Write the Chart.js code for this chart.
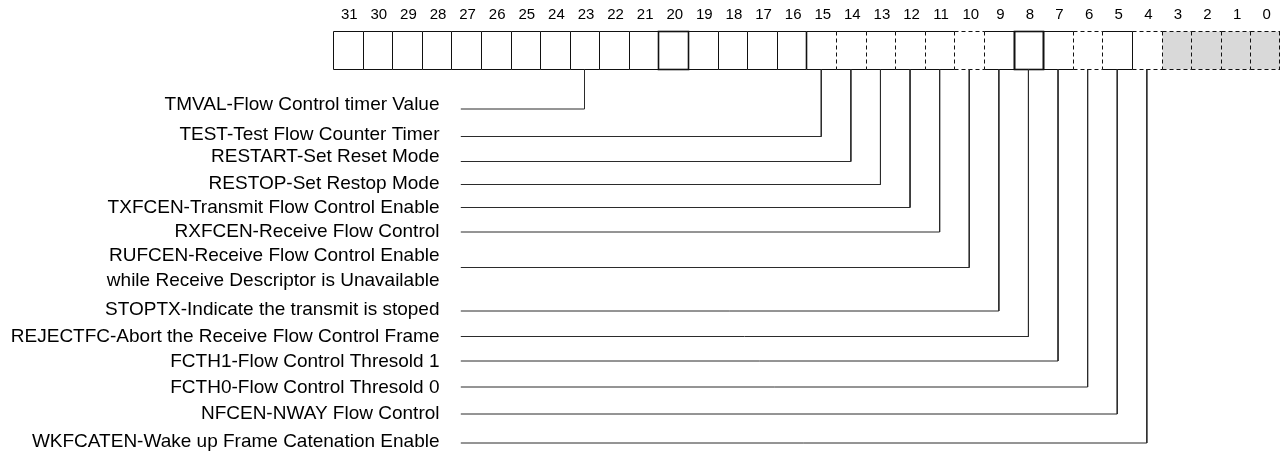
<!DOCTYPE html>
<html>
<head>
<meta charset="utf-8">
<script src="https://cdn.jsdelivr.net/npm/chart.js@4/dist/chart.umd.min.js"></script>
<style>
  html, body { margin: 0; padding: 0; background: #fff; }
  #wrap { width: 1280px; height: 455px; position: relative; }
</style>
</head>
<body>
<div id="wrap"><canvas id="reg"></canvas></div>
<script>
// bit numbers across the top, MSB first
const bitNumbers = [31, 30, 29, 28, 27, 26, 25, 24, 23, 22, 21, 20, 19, 18, 17, 16,
                    15, 14, 13, 12, 11, 10, 9, 8, 7, 6, 5, 4, 3, 2, 1, 0]

// described fields: which bit the leader comes from and its text
const fieldBits = [23, 15, 14, 13, 12, 11, 10, 9, 8, 7, 6, 5, 4]
const fieldNames = [
  ["TMVAL-Flow Control timer Value"],
  ["TEST-Test Flow Counter Timer"],
  ["RESTART-Set Reset Mode"],
  ["RESTOP-Set Restop Mode"],
  ["TXFCEN-Transmit Flow Control Enable"],
  ["RXFCEN-Receive Flow Control"],
  ["RUFCEN-Receive Flow Control Enable", "while Receive Descriptor is Unavailable"],
  ["STOPTX-Indicate the transmit is stoped"],
  ["REJECTFC-Abort the Receive Flow Control Frame"],
  ["FCTH1-Flow Control Thresold 1"],
  ["FCTH0-Flow Control Thresold 0"],
  ["NFCEN-NWAY Flow Control"],
  ["WKFCATEN-Wake up Frame Catenation Enable"],
]
// y of each leader's horizontal run and of its text lines
const fieldLeaderY = [109, 136.5, 161.5, 184.5, 207.5, 232, 267.5, 311, 336.5, 361, 387, 414, 443]
const fieldTextY = [[105], [134.5], [157], [183.5], [208], [232], [255.5, 280.5], [310], [337], [362], [388], [413.5], [441.5]]

// reserved bits (shaded)
const reservedBits = [3, 2, 1, 0]

// --- styling (not data) ---
const BOX_TOP = 31, BOX_BOTTOM = 69
const LEADER_START = 4.32   // x units, where horizontal leaders end on the left
const TEXT_RIGHT = 3.6      // x units, right edge of label text
// edge styles left->right across 33 edges: s solid, d dashed, b bold
const edgeStyle = "ssssssssssssssssbddddddbbddsddddd"
const dashedRunBits = [10, 6, 4, 3, 2, 1, 0]   // top/bottom dashed
const boldBoxBits = [20, 8]

const idx = b => 31 - b  // box index for bit b

const leaderSets = fieldBits.map((b, i) => ({
  data: [
    { x: idx(b) + 0.5, y: BOX_BOTTOM },
    { x: idx(b) + 0.5, y: fieldLeaderY[i] },
    { x: LEADER_START, y: fieldLeaderY[i] },
  ],
  showLine: true,
  borderColor: "#2b2b2b",
  borderWidth: 1,
  pointRadius: 0,
  tension: 0,
  fill: false,
}))

const registerPlugin = {
  id: "register",
  beforeDatasetsDraw(chart) {
    const { ctx, scales: { x, y } } = chart
    const top = Math.round(y.getPixelForValue(BOX_TOP)) + 0.5
    const bot = Math.round(y.getPixelForValue(BOX_BOTTOM)) + 0.5
    const px = v => Math.round(x.getPixelForValue(v)) + 0.5
    ctx.save()
    // shaded reserved bits
    reservedBits.forEach(b => {
      ctx.fillStyle = "#d9d9d9"
      ctx.fillRect(px(idx(b)), top, px(idx(b) + 1) - px(idx(b)), bot - top)
    })
    ctx.strokeStyle = "#111"
    const seg = (x1, y1, x2, y2, dashed, w) => {
      ctx.beginPath()
      ctx.setLineDash(dashed ? [4, 3] : [])
      ctx.lineWidth = w || 1
      ctx.moveTo(x1, y1)
      ctx.lineTo(x2, y2)
      ctx.stroke()
    }
    // top and bottom runs
    bitNumbers.forEach(b => {
      const l = px(idx(b)), r = px(idx(b) + 1)
      const d = dashedRunBits.includes(b)
      seg(l, top, r, top, d)
      seg(l, bot, r, bot, d)
    })
    // vertical edges
    for (let e = 0; e <= 32; e++) {
      const s = edgeStyle[e]
      const xe = Math.min(px(e), chart.width - 0.5)
      seg(xe, top, xe, bot, s === "d", s === "b" ? 1.6 : 1)
    }
    // bold boxes
    boldBoxBits.forEach(b => {
      const l = px(idx(b)), r = px(idx(b) + 1)
      ctx.setLineDash([])
      ctx.lineWidth = 1.6
      ctx.strokeRect(l, top, r - l, bot - top)
    })
    // bit numbers
    ctx.setLineDash([])
    ctx.fillStyle = "#000"
    ctx.font = '15px "Liberation Sans", Arial, sans-serif'
    ctx.textAlign = "center"
    ctx.textBaseline = "middle"
    bitNumbers.forEach(b => {
      ctx.fillText(String(b), x.getPixelForValue(idx(b) + 0.55), y.getPixelForValue(15))
    })
    // field labels
    ctx.font = '19px "Liberation Sans", Arial, sans-serif'
    ctx.textAlign = "right"
    fieldNames.forEach((lines, i) => {
      lines.forEach((t, j) => {
        ctx.fillText(t, x.getPixelForValue(TEXT_RIGHT), y.getPixelForValue(fieldTextY[i][j]))
      })
    })
    ctx.restore()
  },
}

new Chart(document.getElementById("reg"), {
  type: "scatter",
  data: { datasets: leaderSets },
  options: {
    responsive: true,
    maintainAspectRatio: false,
    animation: false,
    layout: { padding: 0 },
    scales: {
      x: { type: "linear", min: -11.25, max: 32.0, display: false },
      y: { type: "linear", min: 0, max: 455, reverse: true, display: false },
    },
    plugins: { legend: { display: false }, tooltip: { enabled: false } },
  },
  plugins: [registerPlugin],
})
</script>
</body>
</html>
